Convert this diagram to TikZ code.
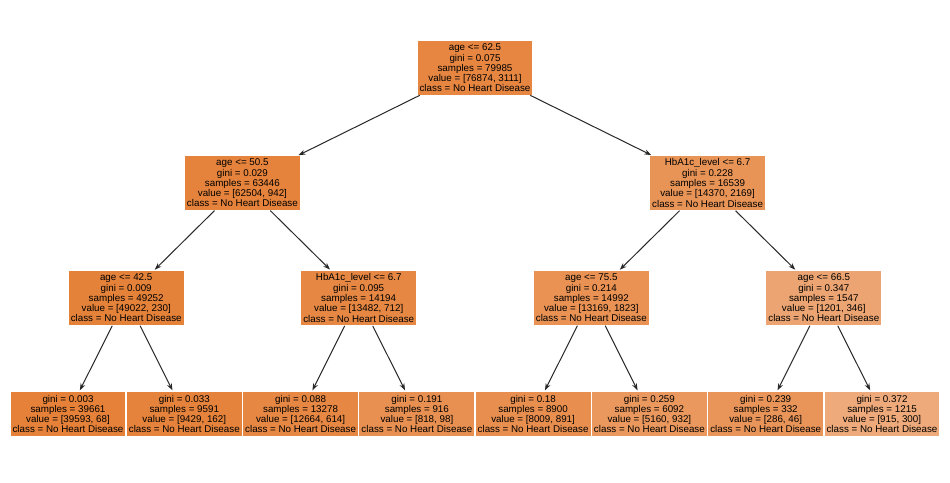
\documentclass[tikz,border=0pt]{standalone}
\usepackage{fontspec}
\setmainfont{Liberation Sans}
\usetikzlibrary{arrows.meta}
\definecolor{hd}{RGB}{229,129,57}
\definecolor{edgec}{RGB}{40,40,40}
\tikzset{
  tn/.style={align=center, text=black, font=\fontsize{9.8}{10.3}\selectfont,
    inner xsep=2pt, inner ysep=2.6pt, draw=none},
  conn/.style={draw=edgec, line width=1pt, -{Stealth[length=7pt,width=5pt]}, shorten >=2pt, shorten <=1pt}
}
\begin{document}
\begin{tikzpicture}[x=1pt,y=-1pt]
\useasboundingbox (0,0) rectangle (950,482);
\fill[white] (0,0) rectangle (950,482);
\node[tn, fill=hd!95.9!white] (root) at (475,68) {age <= 62.5\\gini = 0.075\\samples = 79985\\value = [76874, 3111]\\class = No Heart Disease};
\node[tn, fill=hd!98.5!white] (a) at (242.4,183) {age <= 50.5\\gini = 0.029\\samples = 63446\\value = [62504, 942]\\class = No Heart Disease};
\node[tn, fill=hd!84.9!white] (b) at (707.6,183) {HbA1c\_level <= 6.7\\gini = 0.228\\samples = 16539\\value = [14370, 2169]\\class = No Heart Disease};
\node[tn, fill=hd!99.5!white] (c) at (126.2,298) {age <= 42.5\\gini = 0.009\\samples = 49252\\value = [49022, 230]\\class = No Heart Disease};
\node[tn, fill=hd!94.7!white] (d) at (358.7,298) {HbA1c\_level <= 6.7\\gini = 0.095\\samples = 14194\\value = [13482, 712]\\class = No Heart Disease};
\node[tn, fill=hd!86.2!white] (e) at (591.3,298) {age <= 75.5\\gini = 0.214\\samples = 14992\\value = [13169, 1823]\\class = No Heart Disease};
\node[tn, fill=hd!71.2!white] (f) at (823.8,298) {age <= 66.5\\gini = 0.347\\samples = 1547\\value = [1201, 346]\\class = No Heart Disease};
\node[tn, fill=hd!99.8!white] (l1) at (68,414) {gini = 0.003\\samples = 39661\\value = [39593, 68]\\class = No Heart Disease};
\node[tn, fill=hd!98.3!white] (l2) at (184.3,414) {gini = 0.033\\samples = 9591\\value = [9429, 162]\\class = No Heart Disease};
\node[tn, fill=hd!95.2!white] (l3) at (300.6,414) {gini = 0.088\\samples = 13278\\value = [12664, 614]\\class = No Heart Disease};
\node[tn, fill=hd!88.0!white] (l4) at (416.9,414) {gini = 0.191\\samples = 916\\value = [818, 98]\\class = No Heart Disease};
\node[tn, fill=hd!88.9!white] (l5) at (533.1,414) {gini = 0.18\\samples = 8900\\value = [8009, 891]\\class = No Heart Disease};
\node[tn, fill=hd!81.9!white] (l6) at (649.4,414) {gini = 0.259\\samples = 6092\\value = [5160, 932]\\class = No Heart Disease};
\node[tn, fill=hd!83.9!white] (l7) at (765.7,414) {gini = 0.239\\samples = 332\\value = [286, 46]\\class = No Heart Disease};
\node[tn, fill=hd!67.2!white] (l8) at (882,414) {gini = 0.372\\samples = 1215\\value = [915, 300]\\class = No Heart Disease};
\draw[conn] (root) -- (a);
\draw[conn] (root) -- (b);
\draw[conn] (a) -- (c);
\draw[conn] (a) -- (d);
\draw[conn] (b) -- (e);
\draw[conn] (b) -- (f);
\draw[conn] (c) -- (l1);
\draw[conn] (c) -- (l2);
\draw[conn] (d) -- (l3);
\draw[conn] (d) -- (l4);
\draw[conn] (e) -- (l5);
\draw[conn] (e) -- (l6);
\draw[conn] (f) -- (l7);
\draw[conn] (f) -- (l8);
\end{tikzpicture}
\end{document}
